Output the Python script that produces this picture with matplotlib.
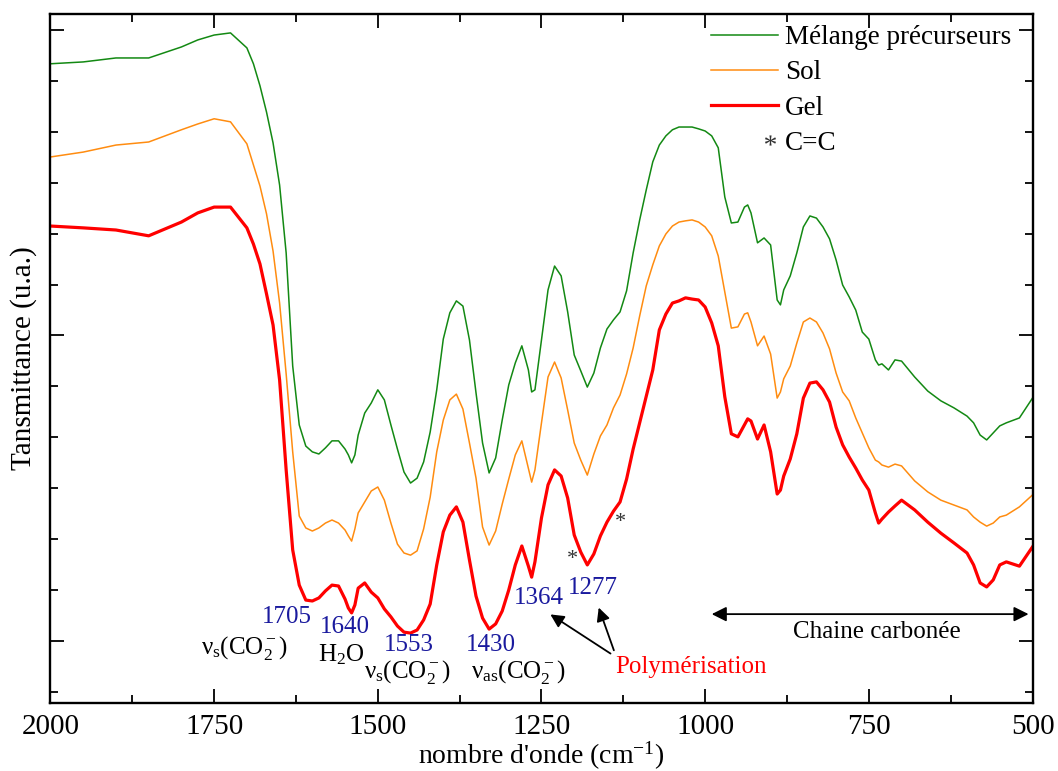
import numpy as np
import matplotlib
matplotlib.use("Agg")
import matplotlib.pyplot as plt
from matplotlib.lines import Line2D
from matplotlib.legend_handler import HandlerLine2D
from matplotlib.ticker import MultipleLocator

plt.rcParams['font.family'] = ['Liberation Serif', 'DejaVu Serif']
plt.rcParams['mathtext.fontset'] = 'custom'
plt.rcParams['mathtext.rm'] = 'Liberation Serif'
plt.rcParams['mathtext.it'] = 'Liberation Serif:italic'
plt.rcParams['mathtext.default'] = 'regular'

# wavenumber grid (cm-1), shared by the three spectra
wavenumber = [2000, 1950, 1900, 1850, 1800, 1775, 1750, 1725, 1700,
              1690, 1680, 1670, 1660, 1650, 1640, 1630, 1620, 1610, 1600,
              1590, 1580, 1570, 1560, 1550, 1545, 1540, 1535, 1530,
              1520, 1510, 1500, 1490, 1480, 1470, 1460, 1450, 1440, 1430,
              1420, 1410, 1400, 1390, 1380, 1370, 1360, 1350, 1340, 1330,
              1320, 1310, 1300, 1290, 1280, 1270, 1265,
              1260, 1250, 1240, 1230, 1220, 1210, 1200, 1190, 1180, 1170,
              1160, 1150, 1140, 1130, 1120, 1110, 1100, 1090, 1080, 1070,
              1060, 1050, 1040, 1030, 1020, 1010, 1000, 990, 980, 970,
              960, 950, 940, 935, 930, 920, 910, 900, 890, 885,
              880, 870, 860, 850, 840, 830, 820, 810, 800, 790,
              780, 770, 760, 750, 740, 735, 730, 720, 710, 700,
              680, 660, 640, 620, 600, 590, 580, 570, 560, 550, 540, 520, 500]

# transmittance, arbitrary units (curves offset vertically)
melange = [188.9, 189.5, 190.8, 190.8, 194.4, 196.7, 198.3, 199.0, 194.1,
           188.9, 181.7, 173.1, 163.0, 149.2, 127.0, 90.0, 70.7, 63.8, 61.9,
           61.2, 63.2, 65.5, 65.5, 62.8, 60.9, 58.3, 60.9, 67.4,
           74.6, 77.9, 82.2, 78.9, 70.7, 62.8, 55.3, 51.7, 53.3, 58.6,
           68.4, 82.2, 98.8, 107.4, 111.3, 109.6, 98.5, 81.2, 64.8, 55.0,
           59.9, 72.3, 83.8, 91.0, 96.6, 88.7, 81.5,
           82.2, 98.5, 114.9, 122.7, 119.5, 107.7, 93.6, 88.4, 83.1, 87.7,
           95.9, 102.1, 105.1, 107.7, 114.6, 127.0, 137.8, 147.6, 156.8, 162.3,
           165.3, 167.3, 168.2, 168.2, 168.2, 167.6, 166.9, 165.3, 161.4, 145.3,
           136.8, 137.1, 142.0, 142.7, 140.1, 130.3, 131.9, 129.6, 111.6, 110.0,
           114.9, 119.5, 127.0, 135.5, 139.1, 138.4, 135.5, 131.6, 124.7, 116.5,
           112.6, 108.3, 101.1, 98.8, 92.0, 90.3, 90.7, 88.7, 92.0, 91.6,
           86.4, 81.8, 78.6, 76.3, 73.6, 71.4, 67.4, 65.8, 68.1, 70.4, 71.4, 73.0, 79.5]

sol = [158.4, 160.0, 162.3, 163.3, 167.3, 169.2, 170.9, 169.9, 162.7,
       155.8, 148.9, 139.8, 127.6, 110.6, 87.4, 61.9, 40.9, 37.0, 36.0,
       37.0, 38.6, 39.6, 38.6, 36.3, 34.4, 32.7, 36.7, 41.9,
       45.5, 49.1, 50.4, 46.1, 38.6, 31.7, 28.8, 28.1, 29.5, 36.7,
       47.1, 61.9, 72.3, 78.9, 80.8, 75.9, 64.8, 53.3, 37.3, 31.4,
       36.0, 44.8, 53.0, 60.9, 65.5, 56.6, 52.0,
       56.0, 71.4, 86.4, 91.3, 86.1, 75.6, 64.8, 59.2, 54.3, 61.2,
       67.1, 70.7, 76.3, 80.5, 87.4, 95.9, 106.4, 116.2, 123.1, 129.3,
       133.2, 135.8, 137.1, 137.5, 137.8, 137.1, 135.5, 132.6, 126.0, 114.2,
       102.4, 102.8, 107.0, 107.4, 104.4, 96.6, 99.8, 93.9, 79.5, 81.5,
       85.8, 90.0, 97.5, 104.4, 105.7, 104.4, 100.8, 95.6, 87.7, 81.5,
       78.6, 73.0, 68.1, 63.2, 59.2, 58.6, 57.6, 56.9, 57.9, 57.3,
       52.4, 48.8, 46.1, 44.5, 42.9, 40.6, 38.9, 37.6, 38.6, 40.6, 41.2, 43.9, 47.8]

gel = [135.8, 135.2, 134.5, 132.6, 137.1, 140.1, 142.0, 142.0, 135.2,
       129.9, 123.4, 113.6, 103.4, 85.4, 56.0, 29.8, 18.3, 13.4, 13.1,
       14.1, 16.4, 18.3, 18.0, 13.7, 10.8, 9.2, 11.8, 17.3,
       19.0, 16.0, 14.1, 10.5, 7.9, 4.9, 2.9, 2.6, 3.6, 6.9,
       12.1, 24.9, 35.7, 41.2, 43.9, 38.9, 26.5, 14.7, 7.5, 3.9,
       5.6, 9.8, 16.7, 24.9, 31.1, 24.5, 20.9,
       25.9, 40.3, 51.1, 56.0, 54.0, 46.8, 34.7, 29.1, 24.9, 28.5,
       34.4, 38.9, 42.5, 45.5, 53.0, 62.8, 71.4, 79.9, 88.7, 101.8,
       107.0, 110.6, 111.3, 112.3, 111.9, 111.6, 109.3, 104.1, 96.6, 79.9,
       67.8, 66.8, 70.7, 72.7, 72.0, 66.1, 70.7, 61.9, 48.1, 49.4,
       54.0, 59.6, 67.8, 79.5, 84.4, 84.8, 82.2, 78.2, 70.0, 64.2,
       60.2, 56.6, 52.7, 49.4, 41.9, 38.6, 39.9, 42.2, 44.2, 46.1,
       42.9, 38.9, 35.3, 32.1, 28.8, 24.9, 19.0, 17.7, 20.0, 24.9, 25.9, 24.5, 30.8]

# band labels: (text, wavenumber, y)
band_numbers = [("1705", 1639, 7.9), ("1640", 1550, 4.6), ("1553", 1452, -1.3),
                ("1430", 1327, -1.3), ("1364", 1254, 14.1), ("1277", 1171, 17.3)]
band_names = [(r"ν$_s$(CO$_2^-$)", 1704, -2.3), (r"H$_2$O", 1556, -4.6),
              (r"ν$_s$(CO$_2^-$)", 1455, -10.1), (r"ν$_{as}$(CO$_2^-$)", 1286, -10.1)]
cc_marks = [(1202, 26.8), (1129, 38.9)]

BLUE = "#1a1a9e"


class StarAtEnd(HandlerLine2D):
    # put the legend marker near the right end of the handle
    def get_xdata(self, legend, xdescent, ydescent, width, height, fontsize):
        pos = width - xdescent - 0.3 * fontsize
        xdata = np.array([pos - 1, pos, pos + 1])
        return xdata, xdata


fig = plt.figure(figsize=(10.58, 7.71), dpi=100)
ax = fig.add_axes([0.0477, 0.0888, 0.9282, 0.8927])

ax.plot(wavenumber, melange, color="#138913", lw=1.1, label="Mélange précurseurs")
ax.plot(wavenumber, sol, color="#ff8c10", lw=1.1, label="Sol")
ax.plot(wavenumber, gel, color="#ff0000", lw=2.3, label="Gel")

ax.set_xlim(2000, 500)
ax.set_ylim(-20.13, 205.1)
ax.xaxis.set_major_locator(MultipleLocator(250))
ax.xaxis.set_minor_locator(MultipleLocator(125))
ax.yaxis.set_major_locator(MultipleLocator(100))
ax.yaxis.set_minor_locator(MultipleLocator(100 / 6))
ax.tick_params(which="both", direction="in", top=True, right=True, width=1.3,
               labelleft=False, labelsize=21, pad=8)
ax.tick_params(which="major", length=10)
ax.tick_params(which="minor", length=5.5)
for s in ax.spines.values():
    s.set_linewidth(1.7)

ax.set_xlabel("nombre d'onde (cm$^{-1}$)", fontsize=20, labelpad=0)
ax.set_ylabel("Tansmittance (u.a.)", fontsize=21, labelpad=10)

for txt, x, y in band_numbers:
    ax.text(x, y, txt, color=BLUE, fontsize=18, ha="center", va="center")
for txt, x, y in band_names:
    ax.text(x, y, txt, color="black", fontsize=18, ha="center", va="center")
for x, y in cc_marks:
    ax.text(x, y, "*", color="#333333", fontsize=16, ha="center", va="center")

# polymerisation arrows
ax.text(1138, -8.5, "Polymérisation", color="red", fontsize=18, ha="left", va="center")
ax.annotate("", xy=(1240, 9.2), xytext=(1141, -4.6),
            arrowprops=dict(arrowstyle="-|>", color="black", lw=1.3, mutation_scale=20))
ax.annotate("", xy=(1164, 11.8), xytext=(1138, -3.9),
            arrowprops=dict(arrowstyle="-|>", color="black", lw=1.3, mutation_scale=20))

# carbon chain range
ax.annotate("", xy=(506, 8.8), xytext=(990, 8.8),
            arrowprops=dict(arrowstyle="<|-|>", color="black", lw=1.3, mutation_scale=22,
                            shrinkA=0, shrinkB=0))
ax.text(737.5, 2.9, "Chaine carbonée", fontsize=18, ha="center", va="center")

handles, labels = ax.get_legend_handles_labels()
star = Line2D([], [], ls="none", marker=r"$*$", color="#333333",
              markersize=8, markeredgewidth=0)
handles.append(star)
labels.append("C=C")
ax.legend(handles, labels, loc="upper right", bbox_to_anchor=(0.995, 1.008),
          frameon=False, fontsize=19.5, handlelength=2.5, handletextpad=0.25,
          labelspacing=0.38, borderaxespad=0.2,
          handler_map={star: StarAtEnd()})

fig.savefig("out.png", dpi=100)
